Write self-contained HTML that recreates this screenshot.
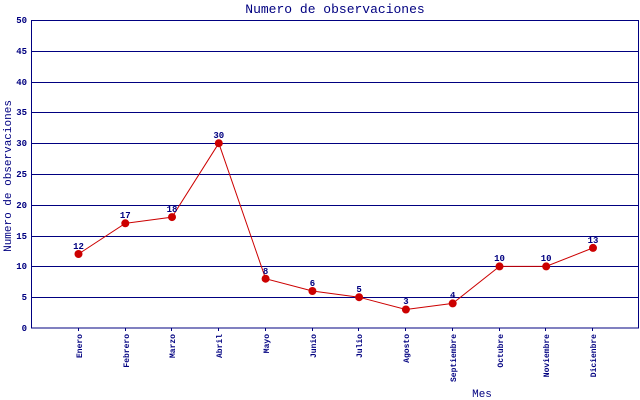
<!DOCTYPE html>
<html><head><meta charset="utf-8"><style>html,body{margin:0;padding:0;background:#fff}svg{display:block}</style></head><body>
<svg width="640" height="400" xmlns="http://www.w3.org/2000/svg" font-family="Liberation Mono, DejaVu Sans Mono, monospace" fill="#000080">
<rect x="0" y="0" width="640" height="400" fill="#fff"/>
<text x="335" y="13" font-size="13" text-anchor="middle" fill="#000080">Numero de observaciones</text>
<g stroke="#000080" stroke-width="1" shape-rendering="crispEdges">
<line x1="31" y1="20.5" x2="639" y2="20.5"/>
<line x1="31" y1="51.5" x2="639" y2="51.5"/>
<line x1="31" y1="82.5" x2="639" y2="82.5"/>
<line x1="31" y1="112.5" x2="639" y2="112.5"/>
<line x1="31" y1="143.5" x2="639" y2="143.5"/>
<line x1="31" y1="174.5" x2="639" y2="174.5"/>
<line x1="31" y1="205.5" x2="639" y2="205.5"/>
<line x1="31" y1="236.5" x2="639" y2="236.5"/>
<line x1="31" y1="266.5" x2="639" y2="266.5"/>
<line x1="31" y1="297.5" x2="639" y2="297.5"/>
<rect x="31.5" y="20.5" width="607" height="307.5" fill="none"/>
</g>
<g font-size="9" text-anchor="end" font-weight="bold">
<text x="27" y="23">50</text><text x="27" y="54">45</text><text x="27" y="85">40</text><text x="27" y="115">35</text><text x="27" y="146">30</text><text x="27" y="177">25</text><text x="27" y="208">20</text><text x="27" y="239">15</text><text x="27" y="269">10</text><text x="27" y="300">5</text><text x="27" y="331">0</text>
</g>
<text transform="translate(11,176) rotate(-90)" font-size="11" text-anchor="middle">Numero de observaciones</text>
<text x="482" y="397" font-size="11" text-anchor="middle">Mes</text>
<g stroke="#000080" shape-rendering="crispEdges">
<line x1="78.5" y1="328" x2="78.5" y2="331"/><line x1="125.5" y1="328" x2="125.5" y2="331"/><line x1="171.5" y1="328" x2="171.5" y2="331"/><line x1="218.5" y1="328" x2="218.5" y2="331"/><line x1="265.5" y1="328" x2="265.5" y2="331"/><line x1="312.5" y1="328" x2="312.5" y2="331"/><line x1="358.5" y1="328" x2="358.5" y2="331"/><line x1="405.5" y1="328" x2="405.5" y2="331"/><line x1="452.5" y1="328" x2="452.5" y2="331"/><line x1="499.5" y1="328" x2="499.5" y2="331"/><line x1="545.5" y1="328" x2="545.5" y2="331"/><line x1="592.5" y1="328" x2="592.5" y2="331"/>
</g>
<g font-size="8" text-anchor="end" font-weight="bold">
<text transform="translate(82,334) rotate(-90)">Enero</text>
<text transform="translate(129,334) rotate(-90)">Febrero</text>
<text transform="translate(175,334) rotate(-90)">Marzo</text>
<text transform="translate(222,334) rotate(-90)">Abril</text>
<text transform="translate(269,334) rotate(-90)">Mayo</text>
<text transform="translate(316,334) rotate(-90)">Junio</text>
<text transform="translate(362,334) rotate(-90)">Julio</text>
<text transform="translate(409,334) rotate(-90)">Agosto</text>
<text transform="translate(456,334) rotate(-90)">Septiembre</text>
<text transform="translate(503,334) rotate(-90)">Octubre</text>
<text transform="translate(549,334) rotate(-90)">Noviembre</text>
<text transform="translate(596,334) rotate(-90)">Dicienbre</text>
</g>
<polyline fill="none" stroke="#cc0000" stroke-width="1" points="78.5,254 125.3,223.3 172,217.1 218.8,143.2 265.6,278.7 312.4,291 359.1,297.2 405.9,309.5 452.7,303.4 499.5,266.4 546.2,266.4 593,247.9"/>
<g fill="#cc0000">
<circle cx="78.5" cy="254" r="4"/><circle cx="125.3" cy="223.3" r="4"/><circle cx="172" cy="217.1" r="4"/><circle cx="218.8" cy="143.2" r="4"/><circle cx="265.6" cy="278.7" r="4"/><circle cx="312.4" cy="291" r="4"/><circle cx="359.1" cy="297.2" r="4"/><circle cx="405.9" cy="309.5" r="4"/><circle cx="452.7" cy="303.4" r="4"/><circle cx="499.5" cy="266.4" r="4"/><circle cx="546.2" cy="266.4" r="4"/><circle cx="593" cy="247.9" r="4"/>
</g>
<g font-size="9" text-anchor="middle" font-weight="bold">
<text x="78.5" y="249">12</text><text x="125.3" y="218">17</text><text x="172" y="212">18</text><text x="218.8" y="138">30</text><text x="265.6" y="274">8</text><text x="312.4" y="286">6</text><text x="359.1" y="292">5</text><text x="405.9" y="304">3</text><text x="452.7" y="298">4</text><text x="499.5" y="261">10</text><text x="546.2" y="261">10</text><text x="593" y="243">13</text>
</g>
</svg>
</body></html>
